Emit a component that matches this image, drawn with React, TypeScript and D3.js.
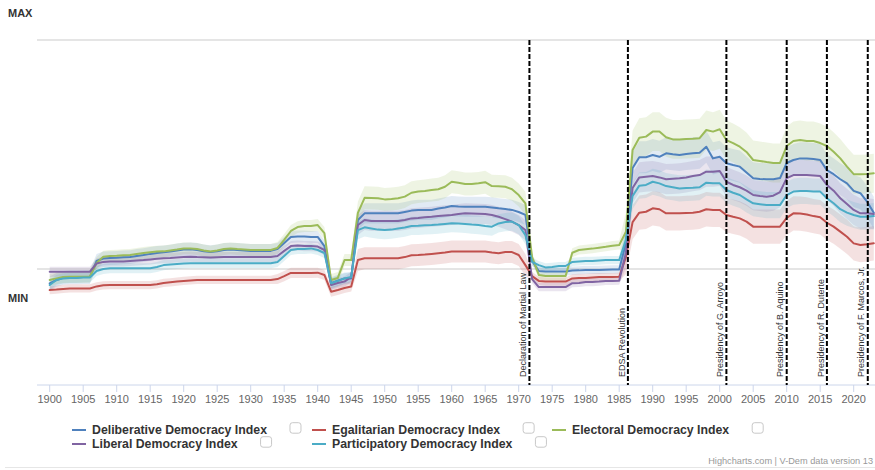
import React, { useMemo } from 'react';
import * as d3 from 'd3';

// ---------- DATA ----------
const START_YEAR = 1900;

const deliberative = [
  -0.063, -0.048, -0.039, -0.037, -0.037, -0.035, -0.035, 0.035, 0.046, 0.048,
  0.049, 0.051, 0.052, 0.057, 0.061, 0.066, 0.070, 0.073, 0.076, 0.081,
  0.085, 0.086, 0.083, 0.077, 0.074, 0.077, 0.083, 0.085, 0.083, 0.081,
  0.079, 0.079, 0.079, 0.079, 0.087, 0.114, 0.140, 0.142, 0.142, 0.140,
  0.140, 0.100, -0.062, -0.051, -0.041, -0.041, 0.214, 0.243, 0.243, 0.243,
  0.243, 0.243, 0.243, 0.249, 0.255, 0.258, 0.258, 0.258, 0.264, 0.269,
  0.275, 0.273, 0.272, 0.272, 0.272, 0.272, 0.269, 0.265, 0.262, 0.258,
  0.249, 0.236, 0.035, -0.009, -0.011, -0.011, -0.011, -0.011, -0.007, -0.006,
  -0.004, -0.004, -0.004, -0.003, -0.002, -0.002, 0.114, 0.441, 0.488, 0.488,
  0.498, 0.490, 0.505, 0.501, 0.498, 0.502, 0.505, 0.508, 0.534, 0.483,
  0.490, 0.462, 0.454, 0.447, 0.421, 0.396, 0.393, 0.392, 0.392, 0.397,
  0.463, 0.476, 0.483, 0.483, 0.480, 0.476, 0.432, 0.414, 0.392, 0.374,
  0.341, 0.331, 0.294, 0.246,
];

const egalitarian = [
  -0.092, -0.090, -0.087, -0.085, -0.085, -0.085, -0.085, -0.076, -0.071, -0.070,
  -0.070, -0.070, -0.070, -0.070, -0.070, -0.070, -0.067, -0.061, -0.058, -0.055,
  -0.052, -0.050, -0.048, -0.048, -0.048, -0.048, -0.048, -0.048, -0.048, -0.048,
  -0.048, -0.048, -0.048, -0.048, -0.044, -0.031, -0.017, -0.017, -0.017, -0.017,
  -0.016, -0.026, -0.099, -0.092, -0.083, -0.076, 0.039, 0.047, 0.047, 0.047,
  0.047, 0.047, 0.047, 0.052, 0.060, 0.061, 0.063, 0.066, 0.069, 0.072,
  0.076, 0.076, 0.076, 0.076, 0.076, 0.076, 0.072, 0.069, 0.074, 0.074,
  0.061, 0.017, -0.031, -0.052, -0.055, -0.055, -0.055, -0.055, -0.041, -0.039,
  -0.039, -0.037, -0.035, -0.035, -0.035, -0.034, 0.052, 0.205, 0.246, 0.250,
  0.265, 0.261, 0.243, 0.243, 0.243, 0.245, 0.246, 0.250, 0.261, 0.258,
  0.258, 0.236, 0.228, 0.221, 0.207, 0.185, 0.185, 0.185, 0.185, 0.185,
  0.223, 0.243, 0.242, 0.238, 0.231, 0.226, 0.202, 0.185, 0.163, 0.141,
  0.112, 0.105, 0.108, 0.112,
];

const electoral = [
  -0.048, -0.041, -0.035, -0.034, -0.034, -0.034, -0.033, 0.026, 0.054, 0.057,
  0.058, 0.060, 0.061, 0.066, 0.070, 0.073, 0.076, 0.077, 0.081, 0.085,
  0.090, 0.090, 0.087, 0.081, 0.076, 0.081, 0.087, 0.090, 0.087, 0.085,
  0.083, 0.083, 0.083, 0.083, 0.092, 0.127, 0.166, 0.183, 0.188, 0.188,
  0.192, 0.157, -0.048, -0.039, 0.039, 0.039, 0.245, 0.311, 0.310, 0.309,
  0.304, 0.306, 0.309, 0.316, 0.333, 0.338, 0.341, 0.345, 0.348, 0.359,
  0.381, 0.377, 0.371, 0.371, 0.374, 0.379, 0.362, 0.361, 0.359, 0.348,
  0.323, 0.287, 0.052, -0.026, -0.031, -0.031, -0.031, -0.031, 0.071, 0.083,
  0.086, 0.089, 0.093, 0.097, 0.102, 0.105, 0.162, 0.520, 0.573, 0.578,
  0.600, 0.600, 0.575, 0.566, 0.566, 0.568, 0.569, 0.571, 0.607, 0.600,
  0.610, 0.563, 0.550, 0.534, 0.511, 0.476, 0.472, 0.467, 0.463, 0.463,
  0.537, 0.559, 0.563, 0.559, 0.559, 0.550, 0.537, 0.512, 0.483, 0.447,
  0.414, 0.414, 0.415, 0.418,
];

const liberal = [
  -0.012, -0.012, -0.012, -0.012, -0.012, -0.012, -0.012, 0.024, 0.031, 0.033,
  0.033, 0.033, 0.035, 0.037, 0.039, 0.042, 0.045, 0.047, 0.048, 0.050,
  0.052, 0.054, 0.052, 0.051, 0.050, 0.051, 0.052, 0.052, 0.052, 0.052,
  0.052, 0.052, 0.052, 0.052, 0.057, 0.079, 0.100, 0.103, 0.100, 0.100,
  0.098, 0.083, -0.070, -0.061, -0.055, -0.035, 0.192, 0.214, 0.210, 0.210,
  0.210, 0.210, 0.210, 0.214, 0.221, 0.223, 0.226, 0.228, 0.231, 0.234,
  0.236, 0.240, 0.243, 0.242, 0.241, 0.240, 0.236, 0.228, 0.218, 0.207,
  0.192, 0.170, -0.044, -0.079, -0.079, -0.079, -0.079, -0.079, -0.062, -0.061,
  -0.057, -0.057, -0.055, -0.052, -0.052, -0.051, 0.070, 0.354, 0.400, 0.403,
  0.406, 0.400, 0.392, 0.394, 0.396, 0.400, 0.406, 0.410, 0.425, 0.425,
  0.428, 0.381, 0.367, 0.357, 0.342, 0.323, 0.319, 0.316, 0.320, 0.336,
  0.397, 0.410, 0.410, 0.410, 0.408, 0.406, 0.367, 0.342, 0.309, 0.284,
  0.258, 0.243, 0.243, 0.240,
];

const participatory = [
  -0.070, -0.048, -0.041, -0.039, -0.039, -0.037, -0.037, -0.009, 0.000, 0.003,
  0.003, 0.003, 0.003, 0.003, 0.003, 0.003, 0.009, 0.017, 0.020, 0.022,
  0.024, 0.025, 0.025, 0.025, 0.025, 0.025, 0.025, 0.025, 0.025, 0.025,
  0.025, 0.025, 0.025, 0.025, 0.031, 0.057, 0.083, 0.087, 0.087, 0.090,
  0.083, 0.070, -0.062, -0.052, -0.041, -0.035, 0.170, 0.182, 0.177, 0.172,
  0.170, 0.172, 0.177, 0.181, 0.188, 0.189, 0.191, 0.192, 0.194, 0.197,
  0.200, 0.199, 0.197, 0.194, 0.192, 0.188, 0.185, 0.199, 0.205, 0.207,
  0.192, 0.148, 0.031, 0.017, 0.007, 0.009, 0.013, 0.013, 0.031, 0.033,
  0.035, 0.035, 0.037, 0.039, 0.039, 0.039, 0.127, 0.319, 0.364, 0.367,
  0.381, 0.374, 0.362, 0.357, 0.352, 0.354, 0.355, 0.357, 0.377, 0.374,
  0.374, 0.345, 0.333, 0.323, 0.304, 0.287, 0.283, 0.279, 0.279, 0.279,
  0.323, 0.338, 0.341, 0.341, 0.338, 0.338, 0.309, 0.287, 0.261, 0.246,
  0.236, 0.228, 0.228, 0.231,
];

// uncertainty band half-widths per era (era start years below)
const bandEraStarts = [1900, 1934, 1946, 1972, 1986];
const deliberativeBand = [0.03, 0.026, 0.044, 0.018, 0.07];
const egalitarianBand = [0.018, 0.022, 0.048, 0.018, 0.075];
const electoralBand = [0.026, 0.026, 0.05, 0.02, 0.085];
const liberalBand = [0.022, 0.022, 0.044, 0.018, 0.066];
const participatoryBand = [0.022, 0.022, 0.04, 0.018, 0.057];

const seriesNames = [
  'Deliberative Democracy Index',
  'Egalitarian Democracy Index',
  'Electoral Democracy Index',
  'Liberal Democracy Index',
  'Participatory Democracy Index',
];
const seriesValues = [deliberative, egalitarian, electoral, liberal, participatory];
const seriesBands = [deliberativeBand, egalitarianBand, electoralBand, liberalBand, participatoryBand];
const seriesColors = ['#4F81BD', '#C0504D', '#9BBB59', '#8064A2', '#4BACC6'];

const xTickYears = [1900, 1905, 1910, 1915, 1920, 1925, 1930, 1935, 1940, 1945, 1950, 1955,
  1960, 1965, 1970, 1975, 1980, 1985, 1990, 1995, 2000, 2005, 2010, 2015, 2020];

const eventYears = [1971.6, 1986.3, 2001, 2010, 2016, 2022.1];
const eventLabels = [
  'Declaration of Martial Law',
  'EDSA Revolution',
  'Presidency of G. Arroyo',
  'Presidency of B. Aquino',
  'Presidency of R. Duterte',
  'Presidency of F. Marcos, Jr.',
];

const yAxisLabels = ['MIN', 'MAX'];
const creditText = 'Highcharts.com | V-Dem data version 13';

// ---------- LAYOUT ----------
const W = 875;
const H = 470;
const PLOT_LEFT = 37;
const PLOT_RIGHT = 875;
const PLOT_TOP = 40;
const PLOT_BOTTOM = 385;
const FONT = '"Liberation Sans", Arial, Helvetica, sans-serif';

const x = d3.scaleLinear().domain([1900, 2020]).range([49.7, 853.7]);
const y = d3.scaleLinear().domain([0, 1]).range([269, 40]);

function bandHalf(bands: number[], year: number) {
  let idx = 0;
  for (let i = 0; i < bandEraStarts.length; i++) if (year >= bandEraStarts[i]) idx = i;
  return bands[idx];
}

export default function App() {
  const series = useMemo(() => {
    return seriesValues.map((vals, si) => {
      const pts = vals.map((v, i) => ({ year: START_YEAR + i, v, w: bandHalf(seriesBands[si], START_YEAR + i) }));
      const line = d3.line<any>().x((d) => x(d.year)).y((d) => y(d.v))(pts) || '';
      const area = d3.area<any>().x((d) => x(d.year)).y0((d) => y(d.v - d.w)).y1((d) => y(d.v + d.w))(pts) || '';
      return { name: seriesNames[si], color: seriesColors[si], line, area };
    });
  }, []);

  const legendFont = `bold 12.3px ${FONT}`;
  const measure = useMemo(() => {
    const ctx = document.createElement('canvas').getContext('2d');
    return (t: string) => {
      if (!ctx) return t.length * 6.3;
      ctx.font = legendFont;
      return ctx.measureText(t).width;
    };
  }, []);

  const legendCols = [72, 312, 552];
  const legendRows = [430, 444];

  return (
    <svg width={W} height={H} style={{ position: 'absolute', left: 0, top: 0, background: '#fff' }}
      fontFamily={FONT}>
      <defs>
        <clipPath id="plotClip">
          <rect x={PLOT_LEFT} y={PLOT_TOP - 5} width={PLOT_RIGHT - PLOT_LEFT} height={PLOT_BOTTOM - PLOT_TOP + 5} />
        </clipPath>
      </defs>

      {/* grid lines */}
      {[0, 1].map((v) => (
        <line key={v} x1={PLOT_LEFT} x2={PLOT_RIGHT} y1={y(v)} y2={y(v)} stroke="#dcdcdc" strokeWidth={1.5} />
      ))}
      {/* y labels */}
      <text x={8} y={17} fontSize={11} fontWeight="bold" fill="#333">{yAxisLabels[1]}</text>
      <text x={8} y={302} fontSize={11} fontWeight="bold" fill="#333">{yAxisLabels[0]}</text>

      {/* bands and lines */}
      <g clipPath="url(#plotClip)">
        {series.map((s) => (
          <path key={'b' + s.name} d={s.area} fill={s.color} fillOpacity={0.17} stroke="none" />
        ))}
        {series.map((s) => (
          <path key={'l' + s.name} d={s.line} fill="none" stroke={s.color} strokeWidth={2}
            strokeLinejoin="round" strokeLinecap="round" />
        ))}
      </g>

      {/* x axis */}
      <line x1={PLOT_LEFT} x2={PLOT_RIGHT} y1={PLOT_BOTTOM} y2={PLOT_BOTTOM} stroke="#ccd6eb" strokeWidth={1} />
      {xTickYears.map((t) => (
        <g key={t}>
          <line x1={x(t)} x2={x(t)} y1={PLOT_BOTTOM} y2={PLOT_BOTTOM + 7} stroke="#ccd6eb" strokeWidth={1} />
          <text x={x(t)} y={403} fontSize={11} fill="#666" textAnchor="middle">{t}</text>
        </g>
      ))}

      {/* event lines */}
      {eventYears.map((ey, i) => (
        <g key={ey}>
          <line x1={x(ey)} x2={x(ey)} y1={PLOT_TOP} y2={PLOT_BOTTOM} stroke="#000" strokeWidth={2}
            strokeDasharray="5,2" />
          <text transform={`translate(${x(ey) - 3.3},377) rotate(-90)`} fontSize={9} fill="#333">
            {eventLabels[i]}
          </text>
        </g>
      ))}

      {/* legend */}
      {series.map((s, i) => {
        const col = i % 3;
        const row = Math.floor(i / 3);
        const sx = legendCols[col];
        const sy = legendRows[row];
        const tx = sx + 20;
        const tw = measure(s.name);
        const cbx = tx + tw + 23;
        return (
          <g key={'lg' + s.name}>
            <line x1={sx} x2={sx + 14} y1={sy} y2={sy} stroke={s.color} strokeWidth={2} />
            <text x={tx} y={sy + 4.3} fontSize={12.3} fontWeight="bold" fill="#333">{s.name}</text>
            <rect x={cbx} y={sy - 7.3} width={11} height={10.5} rx={2.5} fill="#fff" stroke="#c8c8c8" strokeWidth={1} />
          </g>
        );
      })}

      {/* credits */}
      <text x={873} y={464} fontSize={9.2} fill="#999" textAnchor="end">{creditText}</text>
      <line x1={5} x2={W} y1={467.5} y2={467.5} stroke="#e6e6e6" strokeWidth={1} />
    </svg>
  );
}
